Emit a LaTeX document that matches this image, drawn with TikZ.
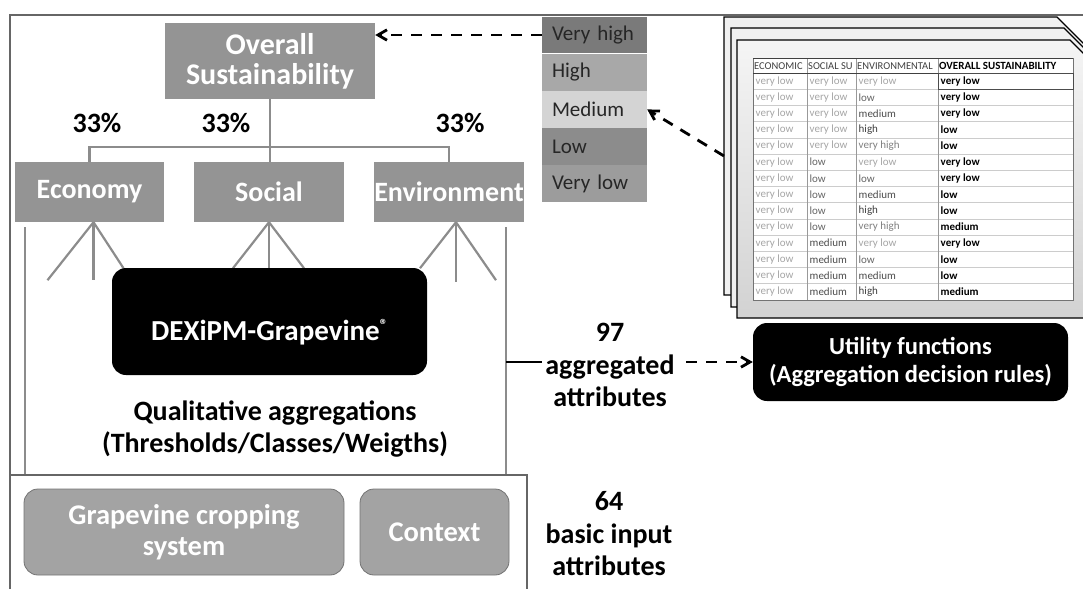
\documentclass[tikz,border=0pt]{standalone}
\usepackage{fontspec}
\setmainfont{Carlito}
\usetikzlibrary{
  arrows.meta, % for Straight Barb arrow tip
  positioning, % for stacking the scale of values
}
\tikzset{
  crit/.style={ % style for the grey criteria boxes
    rectangle,fill=black!42, % flat grey fill, no border
    text=white, % white labels
    font=\bfseries\fontsize{28}{30}\selectfont,
    align=center,inner sep=0pt,
  },
  engine/.style={ % style for the black rounded boxes
    rectangle,rounded corners=14pt,fill=black,
    text=white,align=center,inner sep=0pt,
  },
  inbox/.style={ % style for the two input boxes
    rectangle,rounded corners=14pt,fill=black!36,draw=black!55,thick,
    text=white,font=\bfseries\fontsize{28.5}{31}\selectfont,
    align=center,inner sep=0pt,
  },
  level/.style={ % style for the scale of values
    rectangle,minimum width=105pt,minimum height=36.8pt,
    text width=85pt,align=left,inner xsep=10pt,inner ysep=0pt,
    font=\fontsize{21}{24}\selectfont,text=black!85,
    node distance=0pt, % boxes touch each other
  },
  lbl/.style={ % bold black labels
    font=\bfseries\fontsize{28}{32.5}\selectfont,align=center,
  },
  tree/.style={draw=black!45,line width=2.2pt}, % grey tree lines
  frame/.style={draw=black!60,line width=1.2pt}, % thin frame lines
  dasharrow/.style={ % dashed links
    -{Straight Barb[angle=60:2pt 3]},
    line width=2.8pt,dash pattern=on 11pt off 9pt,
  },
  sheet/.style={draw=black,line width=1.3pt,fill=gray!12}, % stacked pages
  cell/.style={anchor=west,inner sep=1.5pt,font=\fontsize{11}{12}\selectfont},
  verdict/.style={cell,font=\bfseries\fontsize{11}{12}\selectfont,text=black},
  hdr/.style={anchor=west,inner sep=1pt,font=\fontsize{10.5}{11}\selectfont,text=black!75},
  lv-very low/.style={text=black!35},
  lv-low/.style={text=black!60},
  lv-medium/.style={text=black!70},
  lv-high/.style={text=black!75},
  lv-very high/.style={text=black!50},
}
\begin{document}
\begin{tikzpicture}[x=1pt,y=-1pt]
\useasboundingbox (0,0) rectangle (1083,589);
\clip (0,0) rectangle (1083,589);

\draw[frame] (10,589) -- (10,15) -- (1083,15);

% stacked decision tables
\foreach \dx/\dy/\by in {0/0/295,7/11/307}
  \draw[sheet] ({724+\dx},\by) -- ({724+\dx},{17+\dy}) -- ({1057+\dx},{17+\dy}) -- ++(60,60) -- (1120,\by) -- cycle;
\draw[sheet,top color=gray!8,bottom color=gray!35] (737,318) -- (737,40) -- (1070,40) -- ++(60,60) -- (1120,318) -- cycle;
\fill[white] (753,58) rectangle (1073,300);
\foreach \r in {1,...,13}
  \draw[black!20] (753,{73+16.2*\r}) -- (1073,{73+16.2*\r});
\foreach \cx in {807,856,938}
  \draw[black!40] (\cx,58) -- (\cx,300);
\draw[black!55] (753,58) rectangle (1073,300);
\draw[black!75,thick] (753,58) -- (1073,58) (753,73) -- (1073,73);
\draw[black!70] (938,73) rectangle (1073,89.2);
\node[hdr] (h1) at (753,66) {ECONOMIC};
\node[hdr] (h2) at (807,66) {SOCIAL SU};
\node[hdr] (h3) at (856,66) {ENVIRONMENTAL};
\node[hdr,font=\bfseries\fontsize{11}{12}\selectfont,text=black] (h4) at (938,66) {OVERALL SUSTAINABILITY};
\foreach \a/\b/\c/\d [count=\r] in {very low/very low/very low/very low,
  very low/very low/low/very low,
  very low/very low/medium/very low,
  very low/very low/high/low,
  very low/very low/very high/low,
  very low/low/very low/very low,
  very low/low/low/very low,
  very low/low/medium/low,
  very low/low/high/low,
  very low/low/very high/medium,
  very low/medium/very low/very low,
  very low/medium/low/low,
  very low/medium/medium/low,
  very low/medium/high/medium}{
  \node[cell,lv-\a] (c\r-a) at (754,{64.9+16.2*\r}) {\a};
  \node[cell,lv-\b] (c\r-b) at (808,{64.9+16.2*\r}) {\b};
  \node[cell,lv-\c] (c\r-c) at (857,{64.9+16.2*\r}) {\c};
  \node[verdict] (c\r-d) at (939,{64.9+16.2*\r}) {\d};
}
\coordinate (sheetedge) at (724,156);

% scale of values
\node[level,fill=black!52] (vhigh) at (594.5,35) {Very high};
\node[level,fill=black!34,below=of vhigh] (high) {High};
\node[level,fill=black!17,below=of high] (med) {Medium};
\node[level,fill=black!45,below=of med] (low) {Low};
\node[level,fill=black!39,below=of low] (vlow) {Very low};

% tree
\node[crit,minimum width=210pt,minimum height=76pt,
  font=\bfseries\fontsize{30}{30}\selectfont] (overall) at (270,61) {Overall\\Sustainability};
\node[crit,minimum width=149pt,minimum height=60pt] (eco) at (89.5,192) {Economy};
\node[crit,minimum width=150pt,minimum height=60pt] (soc) at (269,192) {Social};
\node[crit,minimum width=150pt,minimum height=60pt] (env) at (449,192) {Environment};
\coordinate (hub) at (270,147);
\draw[tree] (overall.south) -- (overall.south |- soc.north);
\draw[tree] (eco.north) |- (hub) -| (env.north);
\node[lbl] (p1) at (97,123) {33\%};
\node[lbl] (p2) at (226,123) {33\%};
\node[lbl] (p3) at (460,123) {33\%};

\foreach \dx/\dy in {-46/58,0/58,30/46}
  \draw[tree] ([xshift=4pt]eco.south) -- ++(\dx,\dy);
\foreach \dx/\dy in {-36/46,0/46,35/46}
  \draw[tree] (soc.south) -- ++(\dx,\dy);
\foreach \dx/\dy in {-36/46,0/60,40/58}
  \draw[tree] ([xshift=7pt]env.south) -- ++(\dx,\dy);

\coordinate (sl1) at (25,227);
\coordinate (sl2) at (25,475);
\coordinate (sr1) at (506,227);
\coordinate (sr2) at (506,475);
\draw[tree] (sl1) -- (sl2);
\draw[tree] (sr1) -- (sr2);

\node[engine,minimum width=315pt,minimum height=107pt,
  font=\bfseries\fontsize{29}{30}\selectfont,text height=38pt,text depth=0pt] (dexi) at (269.5,321.5) {DEXiPM-Grapevine\raisebox{10pt}{\fontsize{16}{16}\selectfont ®}};
\node[lbl] (qual) at (275,429) {Qualitative aggregations\\(Thresholds/Classes/Weigths)};

% inputs
\draw[frame] (10,475) -- (527,475) -- (527,589);
\node[inbox,minimum width=320pt,minimum height=86pt] (crop) at (184,532) {Grapevine cropping\\system};
\node[inbox,minimum width=149pt,minimum height=86pt] (ctx) at (434.5,532) {Context};

% counts and rules
\node[engine,minimum width=315pt,minimum height=78pt,
  font=\bfseries\fontsize{24.5}{28}\selectfont] (util) at (910.5,362) {Utility functions\\(Aggregation decision rules)};
\node[lbl] (agg) at (610,365) {97\\aggregated\\attributes};
\node[lbl] (basic) at (609,534) {64\\basic input\\attributes};
\draw[line width=2.5pt] (sr1 |- util.west) -- (agg.west |- util.west);
\draw[dasharrow,shorten <=8pt] (agg.east |- util.west) -- (util.west);
\draw[dasharrow] (vhigh.west) -- (vhigh.west -| overall.east);
\draw[dasharrow] (sheetedge) -- (med.east);

\end{tikzpicture}
\end{document}
